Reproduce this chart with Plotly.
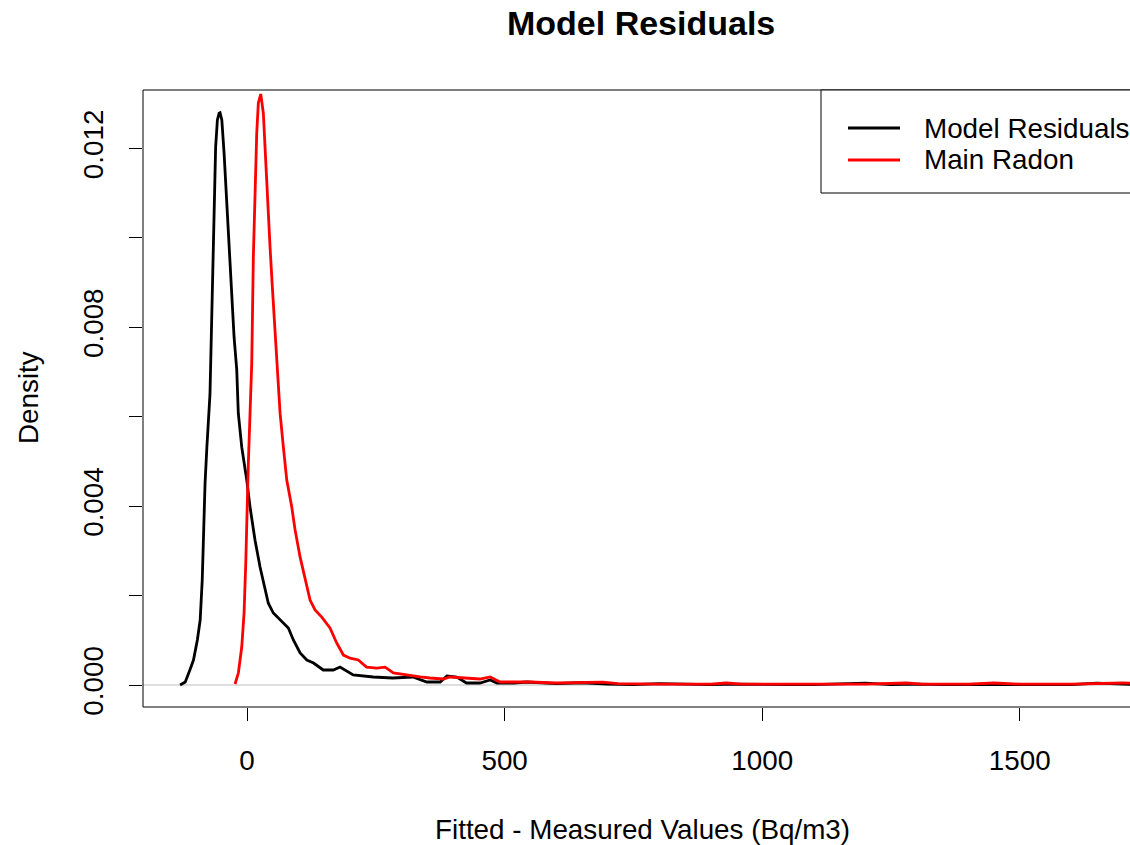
import plotly.graph_objects as go

# ---- data ----
resid_x = [-130, -120, -111, -104, -96.5, -91, -87, -85, -81.5, -78, -72, -70, -66.6, -64, -61,
           -57.6, -54.3, -52.4, -49, -44.6, -40.8, -36.3, -33, -29.7, -25.2, -20, -17, -10.3,
           -0.6, 5.8, 15.5, 25.2, 34.9, 41.3, 51, 70.5, 80.2, 89.9, 103, 116, 129, 148, 167.5,
           180.5, 206, 245, 283, 322, 349, 375, 388, 407, 426, 452, 472, 485, 517, 543,
           600, 650, 700, 750, 800, 850, 900, 950, 1000, 1050, 1100, 1150, 1200, 1250,
           1300, 1350, 1400, 1450, 1500, 1550, 1600, 1650, 1700, 1730]
resid_y = [0.0, 0.000067, 0.000336, 0.000559, 0.001007, 0.001454, 0.002349, 0.003243, 0.004518,
           0.005323, 0.0065, 0.0075, 0.00944, 0.01092, 0.01203, 0.01264, 0.01279, 0.0128,
           0.01264, 0.0119, 0.01107, 0.01018, 0.00935, 0.00854, 0.00778, 0.00705, 0.00608,
           0.00532, 0.004585, 0.00398, 0.00324, 0.00264, 0.00219, 0.00183, 0.00161, 0.00139,
           0.001275, 0.001007, 0.000716, 0.000559, 0.000492, 0.000336, 0.000336, 0.000403,
           0.000224, 0.000179, 0.000157, 0.000179, 0.000067, 0.000067, 0.000201, 0.000179,
           0.000045, 0.000045, 0.000112, 0.000045, 0.000045, 0.000067,
           0.00003, 0.00005, 0.00002, 0.00001, 0.00003, 0.00002, 0.00001, 0.00002, 0.00001,
           0.00001, 0.00001, 0.00002, 0.00004, 0.00001, 0.00002, 0.00001, 0.00001, 0.00001,
           0.00002, 0.00001, 0.00001, 0.00004, 0.00002, 0.00001]

radon_x = [-23.3, -16.9, -10.3, -5.8, -2.5, -0.6, 2.5, 5.8, 9.1, 12.2, 15.5, 18.8, 21.9, 25.2,
           26.6, 31.6, 36.3, 40.2, 44.6, 49.1, 53, 57.6, 64.1, 70.5, 77.1, 86.8, 93.2, 103,
           112.6, 122.3, 132, 145, 161, 174, 187, 200, 216, 232, 252, 268, 284, 310, 336,
           355, 375, 381, 394, 420, 452, 472, 491, 517, 549,
           600, 650, 690, 720, 760, 800, 850, 900, 930, 960, 1000, 1060, 1100, 1150, 1200,
           1280, 1310, 1400, 1450, 1500, 1600, 1700, 1730]
radon_y = [0.000022, 0.000268, 0.00085, 0.00161, 0.00273, 0.00385, 0.00497, 0.00608, 0.0072,
           0.00957, 0.01114, 0.01235, 0.01302, 0.0132, 0.01322, 0.01279, 0.01159, 0.01069,
           0.0098, 0.0089, 0.00816, 0.00743, 0.00608, 0.00532, 0.004585, 0.00398, 0.00347,
           0.00286, 0.00235, 0.0019, 0.00168, 0.00152, 0.001275, 0.00094, 0.00067, 0.0006,
           0.00056, 0.0004, 0.00038, 0.0004, 0.00027, 0.00022, 0.00018, 0.000157, 0.000134,
           0.000134, 0.000179, 0.000157, 0.000134, 0.000179, 0.000067, 0.000067, 0.000067,
           0.000045, 0.00005, 0.000065, 0.00003, 0.00002, 0.00002, 0.00002, 0.00002, 0.000045,
           0.00002, 0.00002, 0.00003, 0.00002, 0.00002, 0.00002, 0.000045, 0.00002, 0.00002,
           0.000045, 0.00002, 0.00002, 0.000045, 0.00004]

series_names = ["Model Residuals", "Main Radon"]
series_colors = ["black", "red"]

x_tickvals = [0, 500, 1000, 1500]
x_ticktext = ["0", "500", "1000", "1500"]
y_tickvals = [0.0, 0.002, 0.004, 0.006, 0.008, 0.010, 0.012]
y_ticktext = ["0.000", "", "0.004", "", "0.008", "", "0.012"]

title_text = "Model Residuals"
x_title = "Fitted - Measured Values (Bq/m3)"
y_title = "Density"

FONT = "Liberation Sans, Arial, sans-serif"
FS = 27.8
LW = 2.8

fig = go.Figure()
for xs, ys, name, col in [(resid_x, resid_y, series_names[0], series_colors[0]),
                          (radon_x, radon_y, series_names[1], series_colors[1])]:
    fig.add_trace(go.Scatter(x=xs, y=ys, mode="lines", name=name,
                             line=dict(color=col, width=LW), showlegend=False,
                             cliponaxis=True))

W, H = 1130, 845
L, R, T, B = 143, 0, 90, 138
pw = W - L - R
ph = H - T - B

def px(xp):
    return (xp - L) / pw

def py(yp):
    return (H - B - yp) / ph

shapes = [
    # zero reference line
    dict(type="line", xref="paper", yref="y", x0=0, x1=1, y0=0, y1=0,
         line=dict(color="#BEBEBE", width=1.2), layer="below"),
    # frame (right side falls outside the picture)
    dict(type="line", xref="paper", yref="paper", x0=0, x1=0, y0=0, y1=1,
         line=dict(color="black", width=1), layer="above"),
    dict(type="line", xref="paper", yref="paper", x0=0, x1=1, y0=1, y1=1,
         line=dict(color="black", width=1), layer="above"),
    dict(type="line", xref="paper", yref="paper", x0=0, x1=1, y0=0, y1=0,
         line=dict(color="black", width=1), layer="above"),
    # legend box
    dict(type="rect", xref="paper", yref="paper", x0=px(821), x1=px(1140), y0=py(193), y1=1,
         line=dict(color="black", width=1), fillcolor="white", layer="above"),
    dict(type="line", xref="paper", yref="paper", x0=px(848), x1=px(900), y0=py(128), y1=py(128),
         line=dict(color=series_colors[0], width=LW), layer="above"),
    dict(type="line", xref="paper", yref="paper", x0=px(848), x1=px(900), y0=py(160), y1=py(160),
         line=dict(color=series_colors[1], width=LW), layer="above"),
]

annotations = [
    dict(text="<b>" + title_text + "</b>", xref="paper", yref="paper", x=px(641), y=py(23),
         xanchor="center", yanchor="middle", showarrow=False,
         font=dict(family=FONT, size=34, color="black")),
    dict(text=x_title, xref="paper", yref="paper", x=px(642), y=py(829),
         xanchor="center", yanchor="middle", showarrow=False,
         font=dict(family=FONT, size=FS, color="black")),
    dict(text=y_title, xref="paper", yref="paper", x=px(28), y=py(398), textangle=-90,
         xanchor="center", yanchor="middle", showarrow=False,
         font=dict(family=FONT, size=FS, color="black")),
    dict(text=series_names[0], xref="paper", yref="paper", x=px(922), y=py(128),
         xanchor="left", yanchor="middle", showarrow=False,
         font=dict(family=FONT, size=FS, color="black")),
    dict(text=series_names[1], xref="paper", yref="paper", x=px(922), y=py(160),
         xanchor="left", yanchor="middle", showarrow=False,
         font=dict(family=FONT, size=FS, color="black")),
]

fig.update_layout(
    width=W, height=H,
    margin=dict(l=L, r=R, t=T, b=B, pad=0),
    paper_bgcolor="white", plot_bgcolor="white",
    font=dict(family=FONT, size=FS, color="black"),
    shapes=shapes, annotations=annotations,
    showlegend=False,
    xaxis=dict(range=[-202, 1714], tickvals=x_tickvals, ticktext=x_ticktext,
               ticks="outside", ticklen=13, tickwidth=1, tickcolor="black",
               showgrid=False, zeroline=False, showline=False,
               tickfont=dict(family=FONT, size=FS, color="black"),
               ticklabelstandoff=16, fixedrange=True),
    yaxis=dict(range=[-0.000492, 0.01331], tickvals=y_tickvals, ticktext=y_ticktext,
               ticks="outside", ticklen=13, tickwidth=1, tickcolor="black",
               showgrid=False, zeroline=False, showline=False, tickangle=-90,
               tickfont=dict(family=FONT, size=FS, color="black"),
               ticklabelstandoff=15, fixedrange=True),
)

fig.write_html("out.html")
